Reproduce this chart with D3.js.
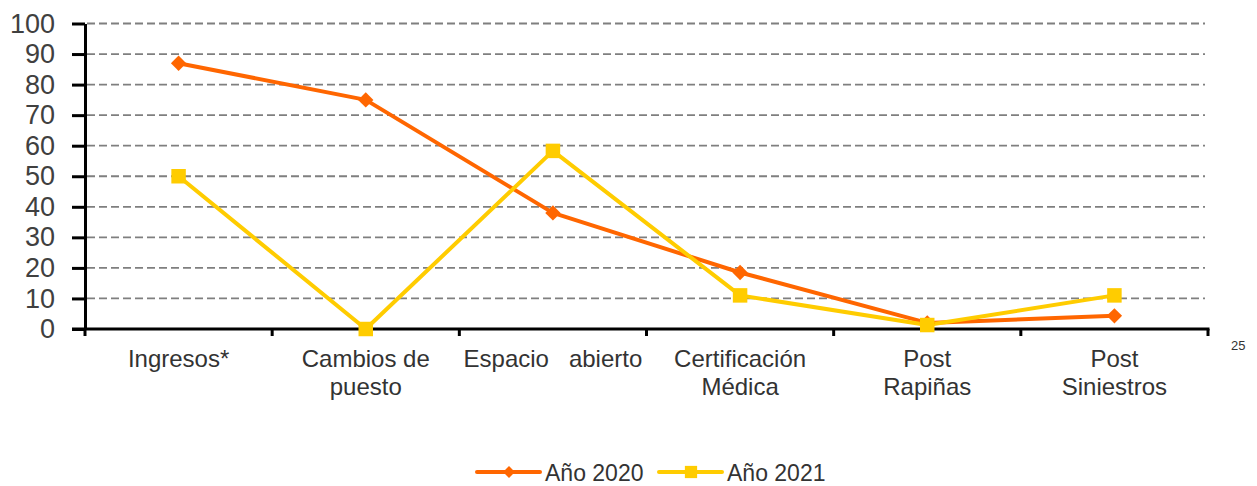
<!DOCTYPE html>
<html>
<head>
<meta charset="utf-8">
<script src="https://cdn.jsdelivr.net/npm/d3@7"></script>
<style>
  html, body { margin: 0; padding: 0; background: #fff; }
  svg { display: block; font-family: "Liberation Sans", Arial, sans-serif; }
</style>
</head>
<body>
<svg id="chart" width="1257" height="486"></svg>
<script>
const categories = [
  ["Ingresos*"],
  ["Cambios de", "puesto"],
  ["Espacio\u00a0\u00a0\u00a0abierto"],
  ["Certificación", "Médica"],
  ["Post", "Rapiñas"],
  ["Post", "Siniestros"]
];
const values2020 = [87, 75, 38, 18.5, 2, 4.3];
const values2021 = [50, 0, 58.3, 11, 1.3, 11];
const seriesNames = ["Año 2020", "Año 2021"];
const yTicks = [0, 10, 20, 30, 40, 50, 60, 70, 80, 90, 100];
const pageNote = "25";

const svg = d3.select("#chart");
const mLeft = 85, mRight = 1208, mTop = 23.5, mBottom = 329;

const idx = categories.map((d, i) => i);
const x = d3.scaleBand().domain(idx).range([mLeft, mRight]).paddingInner(0).paddingOuter(0);
const y = d3.scaleLinear().domain([0, 100]).range([mBottom, mTop]);
const cx = i => x(i) + x.bandwidth() / 2;

// gridlines
svg.append("g").selectAll("line").data(yTicks.filter(t => t > 0)).join("line")
  .attr("x1", mLeft + 2).attr("x2", mRight - 3)
  .attr("y1", d => y(d)).attr("y2", d => y(d))
  .attr("stroke", "#7f7f7f").attr("stroke-width", 1.8)
  .attr("stroke-dasharray", "8,4");

// y axis
const yAxis = svg.append("g").attr("transform", `translate(${mLeft},0)`)
  .call(d3.axisLeft(y).tickValues(yTicks).tickSize(13).tickPadding(17).tickSizeOuter(0));
yAxis.select(".domain").attr("stroke", "#000").attr("stroke-width", 3);
yAxis.selectAll(".tick line").attr("stroke", "#000").attr("stroke-width", 3);
yAxis.selectAll(".tick text").attr("font-size", 27).attr("fill", "#404040")
  .attr("font-family", "'Liberation Sans', Arial, sans-serif");

// x axis
const boundaries = d3.range(categories.length + 1).map(i => mLeft + i * x.bandwidth());
const xg = svg.append("g");
xg.append("line").attr("x1", mLeft - 13).attr("x2", mRight + 1.5)
  .attr("y1", mBottom).attr("y2", mBottom).attr("stroke", "#000").attr("stroke-width", 3);
xg.selectAll(".xt").data(boundaries).join("line").attr("class", "xt")
  .attr("x1", d => d).attr("x2", d => d)
  .attr("y1", mBottom).attr("y2", mBottom + 7)
  .attr("stroke", "#000").attr("stroke-width", 3);

// category labels
const lab = svg.append("g").selectAll("text").data(categories).join("text")
  .attr("text-anchor", "middle").attr("font-size", 24).attr("fill", "#333")
  .attr("transform", (d, i) => `translate(${cx(i)},367)`);
lab.selectAll("tspan").data(d => d).join("tspan")
  .attr("x", 0).attr("y", (d, j) => j * 28).text(d => d);

// lines
const line = d3.line().x((d, i) => cx(i)).y(d => y(d));
svg.append("path").datum(values2020).attr("d", line)
  .attr("fill", "none").attr("stroke", "#FF6600").attr("stroke-width", 4).attr("stroke-linejoin", "round");
svg.append("path").datum(values2021).attr("d", line)
  .attr("fill", "none").attr("stroke", "#FFCC00").attr("stroke-width", 4).attr("stroke-linejoin", "round");

const diamond = d3.symbol().type(d3.symbolDiamond2).size(150);
const square = d3.symbol().type(d3.symbolSquare).size(210);
svg.append("g").selectAll("path").data(values2020).join("path")
  .attr("d", diamond).attr("fill", "#FF6600")
  .attr("transform", (d, i) => `translate(${cx(i)},${y(d)})`);
svg.append("g").selectAll("path").data(values2021).join("path")
  .attr("d", square).attr("fill", "#FFCC00")
  .attr("transform", (d, i) => `translate(${cx(i)},${y(d)})`);

// legend
const legend = svg.append("g");
const legItems = [
  { name: seriesNames[0], color: "#FF6600", sym: d3.symbol().type(d3.symbolDiamond2).size(90), x0: 477 },
  { name: seriesNames[1], color: "#FFCC00", sym: d3.symbol().type(d3.symbolSquare).size(150), x0: 659 }
];
legItems.forEach(it => {
  const g = legend.append("g").attr("transform", `translate(${it.x0},472)`);
  g.append("line").attr("x1", 0).attr("x2", 63).attr("y1", 0).attr("y2", 0)
    .attr("stroke", it.color).attr("stroke-width", 4).attr("stroke-linecap", "round");
  g.append("path").attr("d", it.sym).attr("fill", it.color).attr("transform", "translate(32,0)");
  g.append("text").attr("x", 68).attr("y", 8.5).attr("font-size", 23).attr("fill", "#333").text(it.name);
});

// page number
svg.append("text").attr("x", 1231).attr("y", 350).attr("font-size", 13).attr("fill", "#333").text(pageNote);
</script>
</body>
</html>
